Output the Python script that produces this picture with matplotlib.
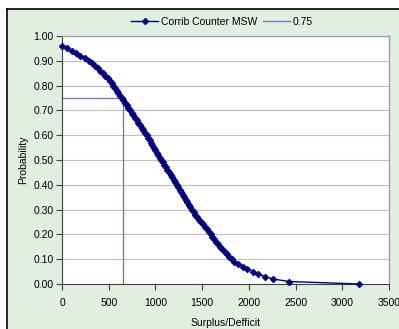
import matplotlib
matplotlib.use('Agg')

import numpy as np
import matplotlib.pyplot as plt
from matplotlib.patches import Rectangle
from matplotlib.lines import Line2D

plt.rcParams['font.family'] = ['Liberation Sans', 'DejaVu Sans']

# exceedance curve
prob = [0.96, 0.95, 0.94, 0.93, 0.92, 0.91, 0.90, 0.89, 0.88, 0.87, 0.86, 0.85,
        0.84, 0.83, 0.82, 0.81, 0.80, 0.79, 0.78, 0.77, 0.76, 0.75, 0.74, 0.73,
        0.72, 0.71, 0.70, 0.69, 0.68, 0.67, 0.66, 0.65, 0.64, 0.63, 0.62, 0.61,
        0.60, 0.59, 0.58, 0.57, 0.56, 0.55, 0.54, 0.53, 0.52, 0.51, 0.50, 0.49,
        0.48, 0.47, 0.46, 0.45, 0.44, 0.43, 0.42, 0.41, 0.40, 0.39, 0.38, 0.37,
        0.36, 0.35, 0.34, 0.33, 0.32, 0.31, 0.30, 0.29, 0.28, 0.27, 0.26, 0.25,
        0.24, 0.23, 0.22, 0.21, 0.20, 0.19, 0.18, 0.17, 0.16, 0.15, 0.14, 0.13,
        0.12, 0.11, 0.10, 0.09, 0.08, 0.07, 0.06, 0.05, 0.04, 0.03, 0.02, 0.01,
        0.00]
surplus = [0, 55, 104, 150, 198, 245, 290, 322, 352, 382, 410, 438,
           465, 490, 514, 532, 549, 568, 586, 604, 622, 640, 658, 676,
           694, 711, 728, 746, 764, 782, 800, 818, 836, 853, 871, 888,
           906, 921, 937, 952, 968, 983, 998, 1014, 1029, 1045, 1060, 1077,
           1094, 1111, 1128, 1145, 1162, 1179, 1196, 1213, 1230, 1246, 1262, 1278,
           1294, 1310, 1326, 1342, 1358, 1374, 1390, 1409, 1428, 1447, 1467, 1487,
           1507, 1527, 1548, 1569, 1590, 1610, 1631, 1652, 1673, 1695, 1717, 1740,
           1764, 1790, 1816, 1845, 1885, 1935, 1985, 2040, 2100, 2173, 2262, 2430,
           3180]

# 0.75 marker line
q75_x = [0, 650, 650]
q75_y = [0.75, 0.75, 0.0]

navy = '#000080'
slate = '#7a7ac0'
green_bg = '#e0efdf'

fig = plt.figure(figsize=(3.99, 3.29), dpi=100)
fig.patch.set_facecolor('white')

# chart area background with black edge on left/top
fig.patches.append(Rectangle((7/399, 0), 1 - 7/399, 1 - 9/329, transform=fig.transFigure,
                             facecolor=green_bg, edgecolor='none', zorder=-5))
fig.lines.append(Line2D([7/399, 7/399], [0, 1 - 9/329], transform=fig.transFigure,
                        color='black', linewidth=1.2, zorder=-4))
fig.lines.append(Line2D([7/399, 1], [1 - 9/329, 1 - 9/329], transform=fig.transFigure,
                        color='black', linewidth=1.2, zorder=-4))

ax = fig.add_axes([62/399, 1 - 284/329, (389 - 62)/399, (284 - 36)/329])
ax.set_zorder(1)
ax.set_facecolor('white')

l1, = ax.plot(surplus, prob, color=navy, linewidth=1.0, marker='D', markersize=3.4,
              markeredgewidth=0.6, label='Corrib Counter MSW', zorder=3, clip_on=False)
l2, = ax.plot(q75_x, q75_y, color=slate, linewidth=1.0, label='0.75', zorder=2)

ax.set_xlim(0, 3500)
ax.set_ylim(0, 1)
ax.set_xticks(np.arange(0, 3501, 500))
ax.set_yticks(np.arange(0, 1.001, 0.1))
ax.set_yticklabels(['%.2f' % v for v in np.arange(0, 1.001, 0.1)])
ax.grid(axis='y', color='#c0c0c0', linewidth=0.8)
ax.set_axisbelow(True)

for s in ['top', 'right']:
    ax.spines[s].set_color('#a0a0a0')
    ax.spines[s].set_linewidth(1.0)
for s in ['left', 'bottom']:
    ax.spines[s].set_color('#404040')
    ax.spines[s].set_linewidth(0.8)

ax.tick_params(axis='both', direction='out', length=4, width=0.8, color='#404040',
               labelsize=7.5, labelcolor='black')
ax.tick_params(axis='x', pad=6)
ax.tick_params(axis='y', pad=2)

ax.set_xlabel('Surplus/Defficit', fontsize=7.5, labelpad=7)
ax.set_ylabel('Probability', fontsize=7.5, labelpad=4)

fig.legend(handles=[l1, l2], loc='center', bbox_to_anchor=(222/399, 1 - 22/329), ncol=2,
           frameon=False, fontsize=7.5, handlelength=2.6, handletextpad=0.3,
           columnspacing=0.5, borderpad=0)

fig.savefig('out.png', dpi=100, facecolor=fig.get_facecolor())
